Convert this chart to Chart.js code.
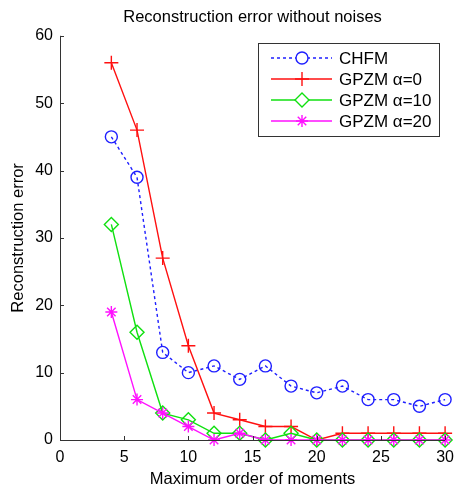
<!DOCTYPE html>
<html>
<head>
<meta charset="utf-8">
<script src="https://cdn.jsdelivr.net/npm/chart.js@4"></script>
<style>
  body { margin: 0; background: #fff; }
  #wrap { width: 462px; height: 497px; }
</style>
</head>
<body>
<div id="wrap"><canvas id="errchart" width="462" height="497"></canvas></div>
<script>
// maximum order of moments
const orders = [4, 6, 8, 10, 12, 14, 16, 18, 20, 22, 24, 26, 28, 30];
const chfm = [45, 39, 13, 10, 11, 9, 11, 8, 7, 8, 6, 6, 5, 6];
const gpzm0 = [56, 46, 27, 14, 4, 3, 2, 2, 0, 1, 1, 1, 1, 1];
const gpzm10 = [32, 16, 4, 3, 1, 1, 0, 1, 0, 0, 0, 0, 0, 0];
const gpzm20 = [19, 6, 4, 2, 0, 1, 0, 0, 0, 0, 0, 0, 0, 0];
const seriesNames = ['CHFM', 'GPZM \u03b1=0', 'GPZM \u03b1=10', 'GPZM \u03b1=20'];
const xTicks = [0, 5, 10, 15, 20, 25, 30];
const yTicks = [0, 10, 20, 30, 40, 50, 60];

const fontName = '"Liberation Sans", Arial, Helvetica, sans-serif';
const axisColor = '#333';

function pts(vals) {
    const out = [];
    for (var i = 0; i < orders.length; i++)
        out.push({x: orders[i], y: vals[i]});
    return out;
}

function makeSet(label, vals, color, style, r, dash, ord) {
    return {
        label: label,
        data: pts(vals),
        borderColor: color,
        backgroundColor: 'rgba(0,0,0,0)',
        pointBorderColor: color,
        pointBackgroundColor: 'rgba(0,0,0,0)',
        pointStyle: style,
        pointRadius: r,
        pointBorderWidth: 1.4,
        borderWidth: 1.4,
        borderDash: dash,
        tension: 0,
        clip: false,
        order: ord
    };
}

// inward ticks like matlab, plus axis lines
const inwardTicks = {
    id: 'inwardTicks',
    afterDatasetsDraw(chart) {
        const ctx = chart.ctx;
        const xs = chart.scales.x, ys = chart.scales.y;
        const a = chart.chartArea;
        ctx.save();
        ctx.strokeStyle = axisColor;
        ctx.lineWidth = 1;
        ctx.beginPath();
        ctx.moveTo(a.left + 0.5, a.top);
        ctx.lineTo(a.left + 0.5, a.bottom + 0.5);
        ctx.lineTo(a.right, a.bottom + 0.5);
        xTicks.forEach(function (v) {
            const p = Math.round(xs.getPixelForValue(v)) + 0.5;
            ctx.moveTo(p, a.bottom);
            ctx.lineTo(p, a.bottom - 4);
        });
        yTicks.forEach(function (v) {
            const p = Math.round(ys.getPixelForValue(v)) + 0.5;
            ctx.moveTo(a.left, p);
            ctx.lineTo(a.left + 4, p);
        });
        ctx.stroke();
        ctx.restore();
    }
};

// legend box inside the axes, top right
const boxLegend = {
    id: 'boxLegend',
    afterDraw(chart) {
        const ctx = chart.ctx;
        const bx = 258, by = 43, bw = 181, bh = 93;
        ctx.save();
        ctx.fillStyle = '#fff';
        ctx.fillRect(bx, by, bw, bh);
        ctx.strokeStyle = axisColor;
        ctx.lineWidth = 1;
        ctx.strokeRect(bx + 0.5, by + 0.5, bw, bh);
        ctx.textBaseline = 'middle';
        chart.data.datasets.forEach(function (ds, i) {
            const y = 58 + i * 21;
            ctx.strokeStyle = ds.borderColor;
            ctx.lineWidth = ds.borderWidth;
            ctx.setLineDash(ds.borderDash || []);
            ctx.beginPath();
            ctx.moveTo(271, y);
            ctx.lineTo(332, y);
            ctx.stroke();
            ctx.setLineDash([]);
            ctx.lineWidth = ds.pointBorderWidth;
            ctx.fillStyle = '#fff';
            Chart.helpers.drawPoint(ctx, {
                pointStyle: ds.pointStyle,
                radius: ds.pointRadius,
                borderWidth: ds.pointBorderWidth,
                rotation: 0
            }, 302, y);
            ctx.fillStyle = '#000';
            ctx.font = '17px ' + fontName;
            ctx.fillText(ds.label, 339, y + 1);
        });
        ctx.restore();
    }
};

new Chart(document.getElementById('errchart'), {
    type: 'line',
    data: {
        datasets: [
            makeSet(seriesNames[0], chfm, '#1f1fff', 'circle', 6, [3, 3], 4),
            makeSet(seriesNames[1], gpzm0, '#ff1010', 'cross', 7, [], 3),
            makeSet(seriesNames[2], gpzm10, '#10e010', 'rectRot', 7, [], 2),
            makeSet(seriesNames[3], gpzm20, '#ff10ff', 'star', 6, [], 1)
        ]
    },
    options: {
        responsive: false,
        animation: false,
        layout: { padding: { left: 9, right: 16, top: 0, bottom: 8 } },
        plugins: {
            legend: { display: false },
            tooltip: { enabled: false },
            title: {
                display: true,
                fullSize: false,
                text: 'Reconstruction error without noises',
                color: '#000',
                font: { family: fontName, size: 16.5, weight: 'normal' },
                padding: { top: 8, bottom: 8 }
            }
        },
        scales: {
            x: {
                type: 'linear',
                min: 0, max: 30,
                afterBuildTicks: function (s) { s.ticks = xTicks.map(function (v) { return {value: v}; }); },
                afterFit: function (s) { s.height = 49; },
                grid: { display: false, drawTicks: false },
                border: { display: false },
                ticks: { color: '#000', padding: 8, font: { family: fontName, size: 16 }, maxRotation: 0 },
                title: {
                    display: true,
                    text: 'Maximum order of moments',
                    color: '#000',
                    font: { family: fontName, size: 16.5 },
                    padding: { top: 1, bottom: 0 }
                }
            },
            y: {
                min: 0, max: 60,
                afterBuildTicks: function (s) { s.ticks = yTicks.map(function (v) { return {value: v}; }); },
                afterFit: function (s) { s.width = 51; },
                grid: { display: false, drawTicks: false },
                border: { display: false },
                ticks: { color: '#000', padding: 7, font: { family: fontName, size: 16 } },
                title: {
                    display: true,
                    text: 'Reconstruction error',
                    color: '#000',
                    font: { family: fontName, size: 16.5 },
                    padding: { top: 0, bottom: 2 }
                }
            }
        }
    },
    plugins: [inwardTicks, boxLegend]
});
</script>
</body>
</html>
